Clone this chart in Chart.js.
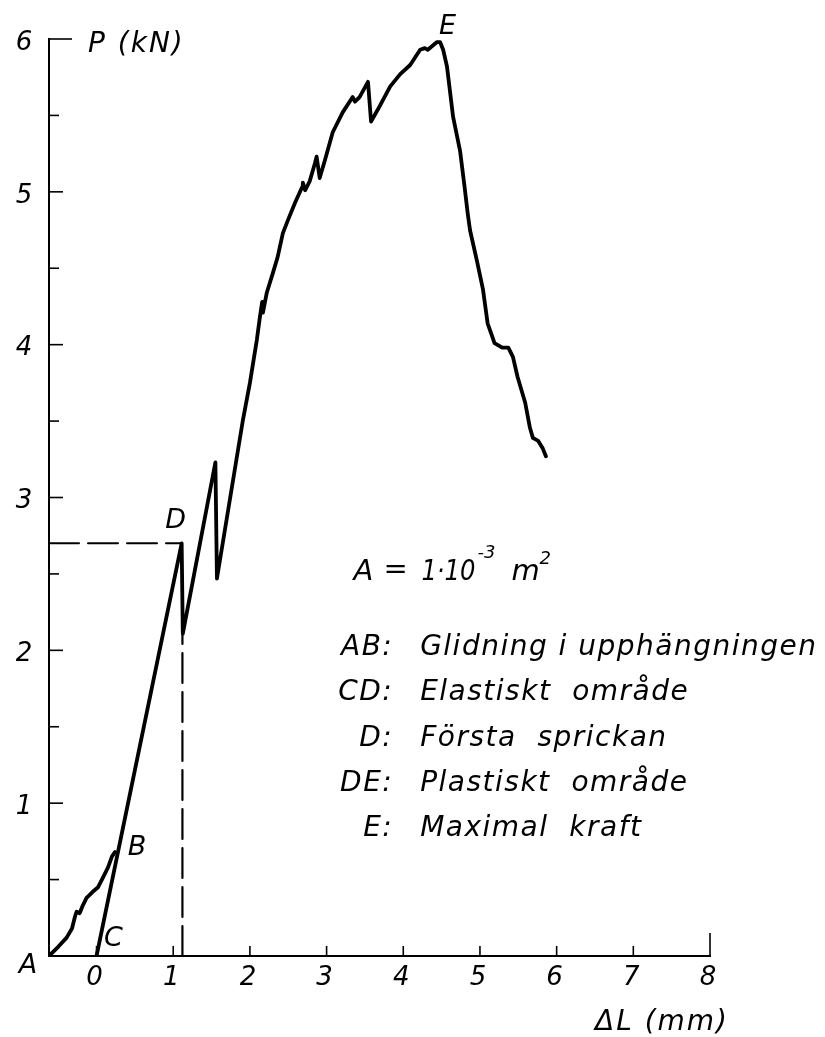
<!DOCTYPE html>
<html>
<head>
<meta charset="utf-8">
<script src="https://cdn.jsdelivr.net/npm/chart.js@4/dist/chart.umd.min.js"></script>
<style>
  html, body { margin: 0; padding: 0; background: #fff; }
  #wrap { width: 825px; height: 1037px; }
</style>
</head>
<body>
<div id="wrap"><canvas id="c" width="825" height="1037"></canvas></div>
<script>
// ---- Data ----
// AB: slip in the suspension (curve from A to B)
const abX = [-0.62, -0.50, -0.39, -0.32, -0.28, -0.26, -0.22, -0.18, -0.13, -0.05, 0.02, 0.08, 0.15, 0.20, 0.24];
const abY = [0, 0.06, 0.12, 0.18, 0.26, 0.29, 0.28, 0.33, 0.38, 0.42, 0.45, 0.51, 0.58, 0.65, 0.68];

// C -> D -> E -> end: main load curve
const mainX = [0, 1.11, 1.125, 1.55, 1.57, 1.91, 2.00, 2.09, 2.13, 2.16, 2.17, 2.22, 2.30, 2.36, 2.43, 2.50, 2.59, 2.68, 2.69, 2.72,
               2.78, 2.85, 2.87, 2.91, 2.98, 3.08, 3.21, 3.34, 3.37, 3.43, 3.54, 3.58, 3.67, 3.83, 3.96, 4.09, 4.22, 4.28, 4.32, 4.44,
               4.48, 4.52, 4.57, 4.65, 4.74, 4.80, 4.84, 4.87, 4.96, 5.04, 5.10, 5.19, 5.29, 5.37, 5.43, 5.49, 5.59, 5.65, 5.69, 5.76,
               5.82, 5.86];
const mainY = [0, 2.70, 2.11, 3.23, 2.47, 3.51, 3.75, 4.03, 4.18, 4.28, 4.21, 4.34, 4.47, 4.57, 4.73, 4.82, 4.93, 5.03, 5.06, 5.01,
               5.07, 5.19, 5.23, 5.09, 5.21, 5.39, 5.52, 5.62, 5.59, 5.62, 5.72, 5.46, 5.54, 5.69, 5.77, 5.83, 5.93, 5.94, 5.93, 5.98,
               5.98, 5.93, 5.82, 5.49, 5.27, 5.03, 4.86, 4.75, 4.55, 4.36, 4.14, 4.01, 3.98, 3.98, 3.92, 3.79, 3.62, 3.46, 3.39, 3.37,
               3.32, 3.27];

// Dashed guide lines at first crack D
const dashHX = [-0.62, 1.11];
const dashHY = [2.70, 2.70];
const dashVX = [1.12, 1.12];
const dashVY = [0, 2.11];

// Axis ranges and ticks
const xMin = -0.62, xMax = 8;
const yMin = 0, yMax = 6;
const xTickValues = [0, 1, 2, 3, 4, 5, 6, 7, 8];
const xTickLabels = ['0', '1', '2', '3', '4', '5', '6', '7', '8'];
const yTickValues = [1, 2, 3, 4, 5, 6];
const yTickLabels = ['1', '2', '3', '4', '5', '6'];
const yMinorTicks = [0.5, 1.5, 2.5, 3.5, 4.5, 5.5];

// Texts
const yTitle = 'P (kN)';
const xTitle = '\u0394L (mm)';
const pointLabels = ['A', 'B', 'C', 'D', 'E'];
const pointLabelX = [-0.62, 0.24, 0.0, 1.11, 4.46];
const pointLabelY = [0, 0.68, 0, 2.70, 5.98];
const areaParts = ['A', '=', '1\u00B710', '-3', 'm', '2'];
const legendKeys = ['AB:', 'CD:', 'D:', 'DE:', 'E:'];
const legendTexts = ['Glidning i upphängningen', 'Elastiskt  område', 'Första  sprickan', 'Plastiskt  område', 'Maximal  kraft'];

const toPts = (xs, ys) => xs.map((x, i) => ({ x: x, y: ys[i] }));

const FAM = '"DejaVu Sans", "Liberation Sans", sans-serif';
const font = (size) => `italic 200 ${size}px ${FAM}`;

const annot = {
  id: 'annot',
  afterDraw(chart) {
    const ctx = chart.ctx;
    const xs = chart.scales.x, ys = chart.scales.y;
    const ca = chart.chartArea;
    ctx.save();
    ctx.strokeStyle = '#000';
    ctx.fillStyle = '#000';
    ctx.lineWidth = 1.6;
    // y ticks (inward)
    yTickValues.forEach(v => {
      const py = ys.getPixelForValue(v);
      const len = v === 6 ? 23 : 14;
      ctx.beginPath(); ctx.moveTo(ca.left, py); ctx.lineTo(ca.left + len, py); ctx.stroke();
    });
    yMinorTicks.forEach(v => {
      const py = ys.getPixelForValue(v);
      ctx.beginPath(); ctx.moveTo(ca.left, py); ctx.lineTo(ca.left + 10, py); ctx.stroke();
    });
    // x ticks (inward)
    xTickValues.forEach(v => {
      const px = xs.getPixelForValue(v);
      const len = v === 8 ? 23 : 10;
      ctx.beginPath(); ctx.moveTo(px, ca.bottom); ctx.lineTo(px, ca.bottom - len); ctx.stroke();
    });

    try { ctx.letterSpacing = '0px'; } catch (e) {}
    // tick labels
    ctx.font = font(26);
    ctx.textAlign = 'center';
    ctx.textBaseline = 'middle';
    yTickValues.forEach((v, i) => {
      ctx.fillText(yTickLabels[i], ca.left - 25, ys.getPixelForValue(v) + 4);
    });
    xTickValues.forEach((v, i) => {
      ctx.fillText(xTickLabels[i], xs.getPixelForValue(v) - 2, ca.bottom + 22);
    });

    // axis titles
    try { ctx.letterSpacing = '2px'; } catch (e) {}
    ctx.font = font(28);
    ctx.textAlign = 'left';
    ctx.textBaseline = 'alphabetic';
    ctx.fillText(yTitle, ca.left + 39, ys.getPixelForValue(6) + 13);
    ctx.fillText(xTitle, xs.getPixelForValue(6.5), ca.bottom + 74);

    // point labels
    try { ctx.letterSpacing = '0px'; } catch (e) {}
    ctx.font = font(27);
    ctx.textAlign = 'center';
    ctx.textBaseline = 'middle';
    const offs = [[-21, 10], [22, -4], [17, -17], [-6, -22], [9, -15]];
    pointLabels.forEach((t, i) => {
      ctx.fillText(t, xs.getPixelForValue(pointLabelX[i]) + offs[i][0], ys.getPixelForValue(pointLabelY[i]) + offs[i][1]);
    });

    // area formula
    ctx.textAlign = 'left';
    ctx.textBaseline = 'alphabetic';
    const bx = xs.getPixelForValue(3.35), by = ys.getPixelForValue(2.46);
    ctx.font = font(29);
    ctx.fillText(areaParts[0], bx, by);
    ctx.fillText(areaParts[1], bx + 30, by - 2);
    ctx.fillText(areaParts[2], bx + 68, by, 54);
    ctx.font = font(18);
    ctx.fillText(areaParts[3], bx + 124, by - 22);
    ctx.font = font(29);
    ctx.fillText(areaParts[4], bx + 158, by);
    ctx.font = font(18);
    ctx.fillText(areaParts[5], bx + 186, by - 16);

    // legend lines
    ctx.font = font(28);
    try { ctx.letterSpacing = '1.5px'; } catch (e) {}
    const keyRight = xs.getPixelForValue(3.87);
    const textLeft = xs.getPixelForValue(4.22);
    legendKeys.forEach((k, i) => {
      const yb = by + 75 + i * 45.3;
      ctx.textAlign = 'right';
      ctx.fillText(k, keyRight, yb);
      ctx.textAlign = 'left';
      ctx.fillText(legendTexts[i], textLeft, yb);
    });
    ctx.restore();
  }
};

new Chart(document.getElementById('c'), {
  type: 'line',
  data: {
    datasets: [
      { label: 'AB', data: toPts(abX, abY), borderColor: '#000', borderWidth: 3.8, pointRadius: 0, tension: 0 },
      { label: 'CDE', data: toPts(mainX, mainY), borderColor: '#000', borderWidth: 3.8, pointRadius: 0, tension: 0 },
      { label: 'dashH', data: toPts(dashHX, dashHY), borderColor: '#000', borderWidth: 2, borderDash: [30, 9], pointRadius: 0 },
      { label: 'dashV', data: toPts(dashVX, dashVY), borderColor: '#000', borderWidth: 2.2, borderDash: [30, 9], pointRadius: 0 }
    ]
  },
  options: {
    responsive: false,
    devicePixelRatio: 1,
    animation: false,
    parsing: true,
    layout: { padding: { left: 49, right: 115, top: 39, bottom: 81 } },
    plugins: { legend: { display: false }, tooltip: { enabled: false } },
    elements: { line: { borderJoinStyle: 'round', borderCapStyle: 'round' } },
    scales: {
      x: {
        type: 'linear', min: xMin, max: xMax,
        ticks: { display: false },
        grid: { display: false, drawTicks: false },
        border: { display: true, color: '#000', width: 2 },
        afterFit: (s) => { s.height = 0; }
      },
      y: {
        type: 'linear', min: yMin, max: yMax,
        ticks: { display: false },
        grid: { display: false, drawTicks: false },
        border: { display: true, color: '#000', width: 2 },
        afterFit: (s) => { s.width = 0; }
      }
    }
  },
  plugins: [annot]
});
</script>
</body>
</html>
